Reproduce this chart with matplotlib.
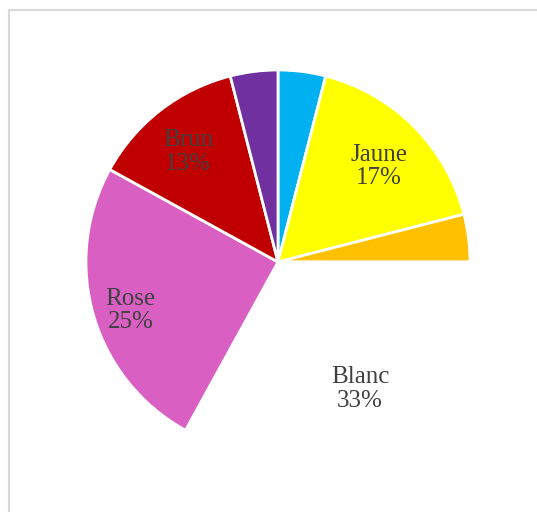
import matplotlib
matplotlib.use("Agg")
import matplotlib.pyplot as plt
from matplotlib.patches import Rectangle
import numpy as np

# données (sens horaire depuis midi)
noms = ["", "Jaune", "", "Blanc", "Rose", "Brun", ""]
valeurs = [4, 17, 4, 33, 25, 13, 4]
couleurs = ["#00B0F0", "#FFFF00", "#FFC000", "#FFFFFF", "#DA5FC2", "#C00000", "#7030A0"]
# position des étiquettes : distance (fraction du rayon) et décalage d'angle
distances = [0.78, 0.745, 0.78, 0.762, 0.80, 0.765, 0.78]
decalages = [0, 0, 0, 3.5, 0, 0, 0]

plt.rcParams['font.family'] = ['Liberation Serif', 'DejaVu Serif']

fig = plt.figure(figsize=(5.37, 5.12), dpi=100)
# cadre gris clair
fig.patches.append(Rectangle((9 / 537, -0.02), 1.0, 1 - 10 / 512 + 0.02,
                             transform=fig.transFigure, fill=False,
                             edgecolor="#d9d9d9", linewidth=1.5))

ax = fig.add_axes([86 / 537, 58 / 512, 384 / 537, 384 / 512])
etiquettes = []
for n, v in zip(noms, valeurs):
    etiquettes.append("{}\n{}%".format(n, v) if n else "")

parts, textes = ax.pie(valeurs, labels=etiquettes, colors=couleurs, startangle=90,
                       counterclock=False, labeldistance=0.78, radius=1,
                       wedgeprops={'edgecolor': 'white', 'linewidth': 2},
                       textprops={'fontsize': 18, 'color': '#404040', 'ha': 'center',
                                  'va': 'center', 'linespacing': 1.1})
# ajuster la position de chaque étiquette
for w, t, d, da in zip(parts, textes, distances, decalages):
    a = np.deg2rad((w.theta1 + w.theta2) / 2 + da)
    t.set_position((d * np.cos(a), d * np.sin(a) - 0.03))
ax.set_xlim(-1, 1)
ax.set_ylim(-1, 1)

fig.savefig("out.png", dpi=100)
